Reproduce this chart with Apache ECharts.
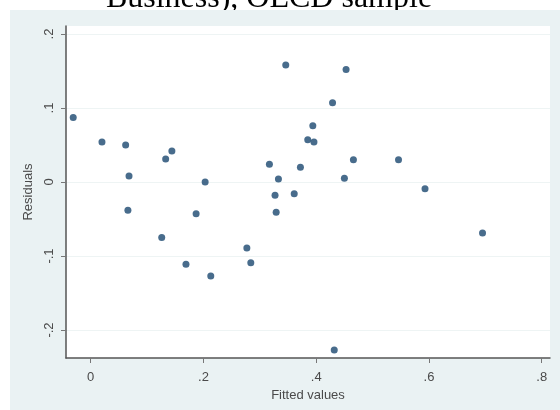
<!DOCTYPE html>
<html>
<head>
<meta charset="utf-8">
<script src="https://cdn.jsdelivr.net/npm/echarts@6/dist/echarts.min.js"></script>
<style>html,body{margin:0;padding:0;background:#fff}#c{width:560px;height:410px}</style>
</head>
<body>
<div id="c"></div>
<script>
// Data
const fittedValues = [-0.031, 0.020, 0.062, 0.068, 0.066, 0.133, 0.144, 0.203, 0.187, 0.317, 0.333, 0.327, 0.329, 0.361, 0.372, 0.346, 0.385, 0.453, 0.429, 0.394, 0.396, 0.466, 0.546, 0.450, 0.593, 0.126, 0.169, 0.213, 0.277, 0.284, 0.695, 0.432];
const residuals    = [0.087, 0.054, 0.050, 0.008, -0.038, 0.031, 0.042, 0.000, -0.043, 0.024, 0.004, -0.018, -0.041, -0.016, 0.020, 0.158, 0.057, 0.152, 0.107, 0.076, 0.054, 0.030, 0.030, 0.005, -0.009, -0.075, -0.111, -0.127, -0.089, -0.109, -0.069, -0.227];
const xTicks = [0, 0.2, 0.4, 0.6, 0.8];
const yTicks = [-0.2, -0.1, 0, 0.1, 0.2];
const titleText = 'Business), OECD sample';
const xName = 'Fitted values';
const yName = 'Residuals';

function fmt(v) {
  if (Math.abs(v) < 1e-9) return '0';
  let s = (Math.round(v * 10) / 10).toString();
  return s.replace('0.', '.');
}

const points = fittedValues.map((x, i) => [x, residuals[i]]);
const chart = echarts.init(document.getElementById('c'), null, {renderer: 'canvas'});
const labelColor = '#4a4a4a';
chart.setOption({
  backgroundColor: '#ffffff',
  animation: false,
  graphic: [
    {type: 'text', z: -20, x: 269, y: -1,
     style: {text: titleText, font: '32px "Liberation Serif"', fill: '#000', align: 'center', verticalAlign: 'middle'}},
    {type: 'rect', z: -10, shape: {x: 10, y: 10, width: 550, height: 400},
     style: {fill: '#eaf2f3'}}
  ],
  grid: {left: 66, right: 10, top: 26, bottom: 52, show: true, backgroundColor: '#ffffff', borderWidth: 0},
  xAxis: {
    type: 'value', min: -0.0438, max: 0.8147,
    name: xName, nameLocation: 'middle', nameGap: 27,
    nameTextStyle: {fontFamily: 'Liberation Sans', fontSize: 13, color: labelColor},
    axisLine: {show: true, onZero: false, lineStyle: {color: '#555', width: 1.5}},
    axisTick: {show: true, length: 5, customValues: xTicks, lineStyle: {color: '#777'}},
    axisLabel: {customValues: xTicks, formatter: fmt, margin: 13, fontFamily: 'Liberation Sans', fontSize: 13, color: labelColor},
    splitLine: {show: false}
  },
  yAxis: {
    type: 'value', min: -0.2378, max: 0.2108,
    name: yName, nameLocation: 'middle', nameGap: 28, nameRotate: 90,
    nameTextStyle: {fontFamily: 'Liberation Sans', fontSize: 13, color: labelColor},
    axisLine: {show: true, onZero: false, lineStyle: {color: '#555', width: 1.5}},
    axisTick: {show: true, length: 5, customValues: yTicks, lineStyle: {color: '#777'}},
    axisLabel: {customValues: yTicks, formatter: fmt, rotate: 90, margin: 10, fontFamily: 'Liberation Sans', fontSize: 13, color: labelColor},
    splitLine: {show: true, lineStyle: {color: '#eef4f4', width: 1}}
  },
  series: [{
    type: 'scatter',
    data: points,
    symbol: 'circle',
    symbolSize: 7,
    itemStyle: {color: '#1a476f'}
  }]
});
</script>
</body>
</html>
